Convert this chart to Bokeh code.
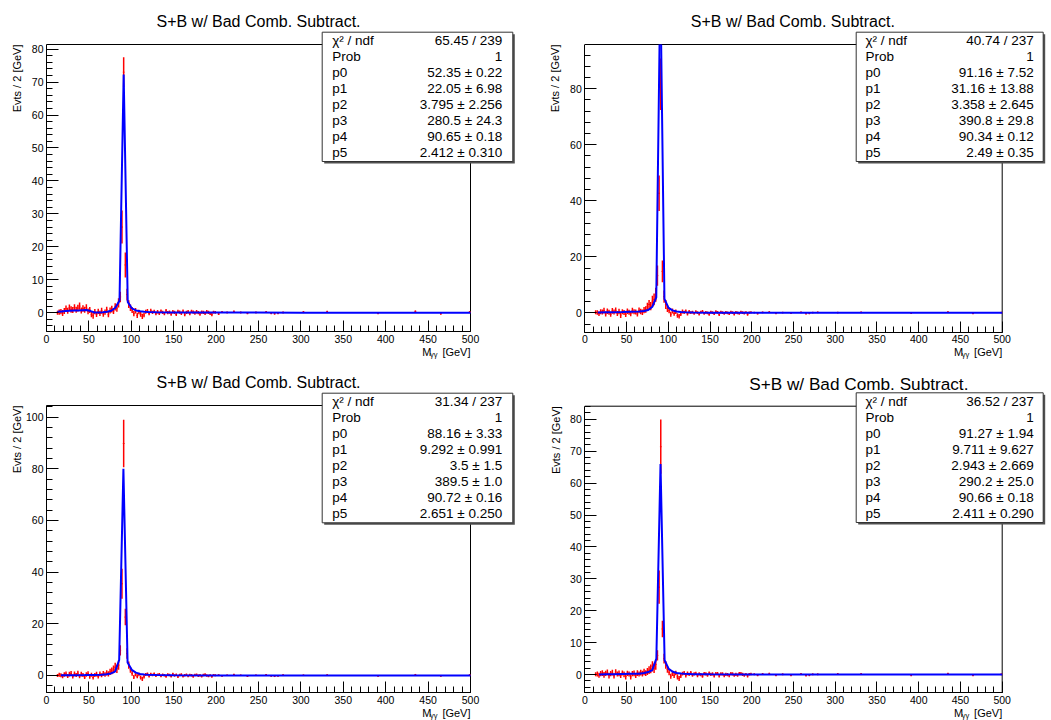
import math
from bokeh.plotting import figure
from bokeh.models import Range1d, SingleIntervalTicker, Label, BoxAnnotation, ColumnDataSource
from bokeh.layouts import column, row
from bokeh.embed import file_html
from bokeh.resources import INLINE

# ---------------- data ----------------
FIRST_CENTRE = 13      # centre of first filled 2-GeV bin
BIN_WIDTH = 2

tl_vals = [0.0, 0.2, 0.3, -0.1, 0.5, 1.2, 0.6, 1.5, 1.0, 0.8,
           1.6, 0.9, 1.4, 2.0, 0.7, 1.3, 0.9, 1.6, 0.4, 0.8,
           -0.6, -0.9, 0.3, -0.5, 0.4, -0.2, 0.6, -0.4, 0.2, 0.9,
           -0.6, 0.7, 1.1, 0.5, 1.8, 1.4, 3.0, 4.8, 26.0, 73.0,
           14.5, 5.5, 2.6, 1.5, 0.8, -0.3, 0.6, -0.8, 0.2, -0.5,
           -1.1, -0.7, 0.3, 0.5, -0.2, 0.6, 0.1, 0.4, -0.3, 0.3,
           -0.2, 0.5, 0.1, -0.3, 0.6, 0.0, 0.2, -0.4, 0.3, 0.1,
           -0.5, 0.4, 0.2, -0.2, 0.5, -0.6, 0.1, 0.3, -0.3, 0.4,
           0.2, -0.1, 0.3, 0.0, -0.4, 0.2, 0.1, -0.2, 0.3, 0.1,
           -0.3, -0.6, 0.2, 0.1]
tl_errs = [0.6, 0.8, 0.8, 0.9, 0.9, 1.0, 0.9, 1.0, 1.0, 0.9,
           1.0, 0.9, 1.0, 1.1, 0.9, 1.0, 0.9, 1.0, 0.9, 0.9,
           0.8, 0.9, 0.8, 0.8, 0.8, 0.8, 0.9, 0.8, 0.8, 0.9,
           0.8, 0.9, 1.0, 0.9, 1.1, 1.1, 1.4, 1.6, 5.0, 4.5,
           3.8, 1.8, 1.2, 1.0, 0.9, 0.8, 0.8, 0.8, 0.7, 0.7,
           0.8, 0.7, 0.6, 0.6, 0.6, 0.6, 0.5, 0.5, 0.5, 0.5,
           0.5, 0.5, 0.5, 0.5, 0.5, 0.5, 0.5, 0.5, 0.5, 0.5,
           0.5, 0.5, 0.5, 0.5, 0.5, 0.5, 0.5, 0.5, 0.5, 0.5,
           0.5, 0.5, 0.5, 0.5, 0.5, 0.5, 0.5, 0.5, 0.5, 0.5,
           0.4, 0.5, 0.4, 0.4]

tr_vals = [0.2, 0.1, -0.3, 0.4, 0.3, 0.8, -0.4, 0.6, 0.2, -0.5,
           0.7, 0.3, 0.9, -0.2, 0.5, -0.8, 0.4, 0.1, -0.6, 0.6,
           0.2, -0.3, 0.8, 0.4, 0.3, -0.4, 0.9, 0.5, 0.2, 1.0,
           1.2, 2.2, 3.0, 2.4, 4.2, 4.8, 6.5, 13.3, 42.7, 81.6,
           14.8, 5.8, 3.0, 1.5, 0.9, -0.5, 0.7, -0.2, 0.4, -0.9,
           -1.2, -0.4, 0.5, 0.2, 0.6, -0.3, 0.4, 0.1, 0.3, -0.2,
           0.4, 0.1, -0.4, 0.3, 0.5, -0.2, 0.2, 0.0, -0.5, 0.3,
           0.1, -0.3, 0.4, 0.2, -0.6, 0.3, 0.1, -0.2, 0.2, 0.0,
           -0.3, 0.3, 0.1, -0.4, 0.2, 0.0, -0.2, 0.3, 0.1, -0.1,
           0.2, -0.5, 0.1, 0.2]
tr_errs = [0.7, 0.8, 0.8, 0.9, 0.9, 1.0, 0.9, 1.0, 0.9, 0.9,
           1.0, 0.9, 1.0, 0.9, 1.0, 1.0, 0.9, 0.9, 0.9, 1.0,
           0.9, 0.9, 1.0, 0.9, 0.9, 0.9, 1.0, 1.0, 1.0, 1.1,
           1.2, 1.4, 1.6, 1.5, 1.9, 2.1, 2.5, 3.6, 6.3, 9.2,
           3.9, 2.2, 1.6, 1.2, 1.0, 0.9, 0.9, 0.8, 0.8, 0.8,
           0.8, 0.7, 0.7, 0.6, 0.6, 0.6, 0.6, 0.5, 0.5, 0.5,
           0.5, 0.5, 0.5, 0.5, 0.5, 0.5, 0.5, 0.5, 0.5, 0.5,
           0.5, 0.5, 0.5, 0.5, 0.5, 0.5, 0.5, 0.5, 0.5, 0.5,
           0.5, 0.5, 0.5, 0.5, 0.5, 0.5, 0.5, 0.5, 0.5, 0.5,
           0.4, 0.5, 0.4, 0.4]

bl_vals = [0.0, 0.3, 0.1, -0.3, 0.4, 0.6, -0.2, 0.5, 0.8, -0.4,
           0.6, 0.2, 0.9, -0.3, 0.5, 0.2, -0.6, 0.4, 0.7, -0.5,
           0.3, -0.8, 0.2, 0.5, -0.4, 0.6, 0.1, 0.8, 0.4, 1.0,
           0.6, 1.4, 1.8, 2.4, 3.2, 2.6, 4.0, 9.7, 35.5, 89.8,
           22.6, 8.5, 4.0, 2.2, 0.8, -0.6, 0.5, -0.3, 0.4, -0.8,
           -1.3, -0.5, 0.4, 0.6, -0.2, 0.5, 0.2, 0.7, -0.1, 0.3,
           0.5, -0.2, 0.3, 0.1, -0.4, 0.4, 0.2, -0.3, 0.6, 0.0,
           0.3, -0.5, 0.2, 0.4, -0.3, 0.1, 0.3, -0.2, 0.2, 0.1,
           -0.4, 0.2, 0.3, -0.1, 0.1, -0.3, 0.2, 0.4, 0.0, -0.2,
           0.1, -0.4, 0.2, 0.1]
bl_errs = [0.6, 0.8, 0.8, 0.8, 0.9, 0.9, 0.8, 0.9, 0.9, 0.8,
           0.9, 0.8, 0.9, 0.8, 0.9, 0.8, 0.8, 0.9, 0.9, 0.8,
           0.8, 0.8, 0.8, 0.9, 0.8, 0.9, 0.8, 0.9, 0.9, 1.0,
           1.0, 1.2, 1.3, 1.5, 1.7, 1.6, 1.8, 2.0, 5.8, 9.2,
           3.2, 2.0, 1.4, 1.1, 0.9, 0.8, 0.8, 0.8, 0.7, 0.8,
           0.8, 0.7, 0.6, 0.6, 0.6, 0.6, 0.5, 0.5, 0.5, 0.5,
           0.5, 0.5, 0.5, 0.5, 0.5, 0.5, 0.5, 0.5, 0.5, 0.5,
           0.5, 0.5, 0.5, 0.5, 0.5, 0.5, 0.5, 0.5, 0.5, 0.5,
           0.5, 0.5, 0.5, 0.5, 0.5, 0.5, 0.5, 0.5, 0.5, 0.5,
           0.4, 0.5, 0.4, 0.4]

br_vals = [0.1, 0.2, -0.2, 0.3, 0.5, -0.1, 0.4, 0.7, -0.3, 0.3,
           0.6, -0.4, 0.8, 0.2, 0.4, -0.3, 0.5, 0.1, -0.6, 0.4,
           0.2, -0.7, 0.3, 0.4, -0.3, 0.5, 0.2, 0.6, 0.3, 0.8,
           0.5, 1.0, 1.4, 1.8, 2.6, 2.0, 3.2, 6.0, 27.4, 71.4,
           14.3, 5.0, 3.0, 1.6, 0.7, -0.5, 0.4, -0.3, 0.5, -0.7,
           -1.2, -0.4, 0.3, 0.5, -0.3, 0.4, 0.1, 0.6, -0.2, 0.2,
           0.4, -0.3, 0.2, 0.0, -0.5, 0.3, 0.2, -0.2, 0.5, 0.1,
           0.2, -0.4, 0.3, 0.3, -0.4, 0.2, 0.2, -0.3, 0.1, 0.0,
           -0.3, 0.3, 0.2, -0.2, 0.1, -0.2, 0.3, 0.3, 0.1, -0.2,
           0.1, -0.4, 0.1, 0.2]
br_errs = [0.6, 0.8, 0.8, 0.8, 0.9, 0.9, 0.8, 0.9, 0.9, 0.8,
           0.9, 0.8, 0.9, 0.8, 0.9, 0.8, 0.8, 0.9, 0.9, 0.8,
           0.8, 0.8, 0.8, 0.9, 0.8, 0.9, 0.8, 0.9, 0.9, 1.0,
           0.9, 1.1, 1.2, 1.4, 1.6, 1.5, 1.7, 1.6, 5.2, 8.5,
           2.6, 1.5, 1.2, 1.0, 0.9, 0.8, 0.8, 0.8, 0.7, 0.8,
           0.8, 0.7, 0.6, 0.6, 0.6, 0.6, 0.5, 0.5, 0.5, 0.5,
           0.5, 0.5, 0.5, 0.5, 0.5, 0.5, 0.5, 0.5, 0.5, 0.5,
           0.5, 0.5, 0.5, 0.5, 0.5, 0.5, 0.5, 0.5, 0.5, 0.5,
           0.5, 0.5, 0.5, 0.5, 0.5, 0.5, 0.5, 0.5, 0.5, 0.5,
           0.4, 0.5, 0.4, 0.4]

# sparse high-mass bins (bin centres) and their contents
tail_x = [203, 207, 213, 221, 229, 237, 247, 259, 265, 269, 273, 279, 303, 331, 391, 435, 465, 499]
tail_err = [0.3, 0.3, 0.3, 0.3, 0.3, 0.3, 0.3, 0.3, 0.3, 0.3, 0.3, 0.3, 0.3, 0.3, 0.3, 0.3, 0.3, 0.3]
tl_tail = [-0.4, 0.2, 0.1, 0.4, 0.1, -0.2, 0.1, 0.2, -0.2, -0.3, -0.2, 0.1, 0.2, 0.3, -0.2, 0.4, -0.3, 0.2]
tr_tail = [0.1, -0.3, 0.2, 0.3, -0.2, 0.1, -0.1, 0.2, -0.3, -0.2, 0.1, 0.2, 0.1, 0.2, -0.1, 0.3, -0.2, 0.1]
bl_tail = [0.2, -0.2, 0.1, 0.4, 0.1, -0.3, 0.1, 0.3, -0.2, -0.3, -0.2, 0.2, 0.1, 0.2, -0.2, 0.3, -0.2, 0.2]
br_tail = [0.1, -0.2, 0.2, 0.3, -0.2, 0.1, -0.2, 0.2, -0.3, -0.2, 0.1, 0.1, 0.2, 0.2, -0.2, 0.3, -0.2, 0.1]

# fitted curves
tl_fit_x = [13, 17.9, 22.7, 27.6, 32.5, 37.4, 42.2, 47.1, 52.0, 56.8, 61.7, 66.6, 71.5, 76.3, 81.2,
            86.1, 91.0, 95.8, 100.7, 105.6, 110.5, 115.3, 120.2, 130, 150, 200, 300, 400, 500]
tl_fit_y = [0.3, 0.4, 0.5, 0.6, 0.65, 0.7, 0.75, 0.8, 0.5, 0.05, 0.1, 0.15, 0.3, 0.6, 1.5,
            3.7, 72.3, 3.3, 1.3, 0.7, 0.45, 0.3, 0.22, 0.15, 0.08, 0.04, 0.02, 0.01, 0.0]
tr_fit_x = [15.5, 25, 35, 45, 55, 65, 71, 76, 81, 85.6, 90.5, 95.4, 100.3, 105.1, 110, 115, 120,
            130, 150, 200, 300, 400, 500]
tr_fit_y = [0.1, 0.2, 0.25, 0.3, 0.4, 0.5, 0.7, 1.0, 2.2, 5.5, 118.0, 5.0, 1.8, 0.9, 0.5, 0.35, 0.25,
            0.15, 0.08, 0.03, 0.01, 0.0, 0.0]
bl_fit_x = [17, 25, 35, 45, 55, 65, 71, 76, 80.8, 85.7, 90.7, 95.6, 100.5, 105.4, 110.3, 115.2, 120,
            130, 150, 200, 300, 400, 500]
bl_fit_y = [0.05, 0.1, 0.12, 0.15, 0.2, 0.3, 0.5, 0.8, 1.5, 6.0, 80.0, 5.0, 2.2, 1.1, 0.6, 0.4, 0.3,
            0.18, 0.1, 0.04, 0.01, 0.0, 0.0]
br_fit_x = [17, 25, 35, 45, 55, 65, 71, 76, 80.8, 85.7, 90.7, 95.6, 100.5, 105.4, 110.3, 115.2, 120,
            130, 150, 200, 300, 400, 500]
br_fit_y = [0.05, 0.1, 0.15, 0.2, 0.25, 0.3, 0.5, 0.8, 1.4, 5.0, 66.0, 4.5, 1.8, 0.9, 0.5, 0.35, 0.25,
            0.15, 0.08, 0.03, 0.01, 0.0, 0.0]

stat_names = ["\u03c7\u00b2 / ndf", "Prob", "p0", "p1", "p2", "p3", "p4", "p5"]
tl_stats = ["65.45 / 239", "1", "52.35 \u00b1 0.22", "22.05 \u00b1 6.98", "3.795 \u00b1 2.256",
            "280.5 \u00b1 24.3", "90.65 \u00b1 0.18", "2.412 \u00b1 0.310"]
tr_stats = ["40.74 / 237", "1", "91.16 \u00b1 7.52", "31.16 \u00b1 13.88", "3.358 \u00b1 2.645",
            "390.8 \u00b1 29.8", "90.34 \u00b1 0.12", "2.49 \u00b1 0.35"]
bl_stats = ["31.34 / 237", "1", "88.16 \u00b1 3.33", "9.292 \u00b1 0.991", "3.5 \u00b1 1.5",
            "389.5 \u00b1 1.0", "90.72 \u00b1 0.16", "2.651 \u00b1 0.250"]
br_stats = ["36.52 / 237", "1", "91.27 \u00b1 1.94", "9.711 \u00b1 9.627", "2.943 \u00b1 2.669",
            "290.2 \u00b1 25.0", "90.66 \u00b1 0.18", "2.411 \u00b1 0.290"]

TITLE = "S+B w/ Bad Comb. Subtract."
Y_TITLE = "Evts / 2 [GeV]"
X_MIN, X_MAX = 0, 500
X_TICK = 50

FONT = "Liberation Sans"


def lab(p, x, y, text, size, align="left", baseline="middle", angle=0.0):
    p.add_layout(Label(x=x, y=y, x_units="screen", y_units="screen", text=text,
                       text_font=FONT, text_font_size=f"{size}px", text_color="black",
                       text_align=align, text_baseline=baseline, angle=angle))


def clip_curve(xs, ys, top):
    lines, cur = [], []
    for i, (x, y) in enumerate(zip(xs, ys)):
        if i > 0:
            xp, yp = xs[i - 1], ys[i - 1]
            if (yp <= top) != (y <= top):
                xc = xp + (top - yp) * (x - xp) / (y - yp)
                cur.append((xc, top))
                if y > top:
                    lines.append(cur)
                    cur = []
        if y <= top:
            cur.append((x, y))
    if cur:
        lines.append(cur)
    return [[pt[0] for pt in ln] for ln in lines], [[pt[1] for pt in ln] for ln in lines]


def make_panel(vals, errs, tail_v, fit_x, fit_y, stats, yr, ytick, g):
    ox, oy, W, H = g["fig"]            # figure placement (page px)
    L, R, T, B = g["frame"]            # ROOT frame (page px)
    ymin, ymax = yr
    kx = (R - L) / (X_MAX - X_MIN)
    ky = (B - T) / (ymax - ymin)
    xr = Range1d(X_MIN - (L - ox) / kx, X_MAX + (ox + W - R) / kx)
    yrng = Range1d(ymin - (oy + H - B) / ky, ymax + (T - oy) / ky)

    p = figure(width=W, height=H, min_border=0, x_range=xr, y_range=yrng,
               output_backend="svg", toolbar_location=None)
    p.background_fill_color = "white"
    p.border_fill_color = "white"
    p.outline_line_color = None
    p.xgrid.visible = False
    p.ygrid.visible = False

    sx = lambda v: v - ox
    sy = lambda v: oy + H - v

    # frame lines (top / right) drawn under the stats box
    p.segment(x0=[X_MIN, X_MAX], y0=[ymax, ymin], x1=[X_MAX, X_MAX], y1=[ymax, ymax],
              line_color="black", line_width=1)

    xa, ya = p.xaxis[0], p.yaxis[0]
    xa.fixed_location = ymin
    ya.fixed_location = X_MIN
    xa.bounds = (X_MIN, X_MAX)
    ya.bounds = (ymin, ymax)
    xa.ticker = SingleIntervalTicker(interval=X_TICK, num_minor_ticks=5)
    ya.ticker = SingleIntervalTicker(interval=ytick, num_minor_ticks=5)
    for ax in (xa, ya):
        ax.axis_line_color = "black"
        ax.major_tick_line_color = "black"
        ax.minor_tick_line_color = "black"
        ax.major_tick_out = 0
        ax.minor_tick_out = 0
        ax.major_label_text_font = FONT
        ax.major_label_text_font_size = "10.5px"
        ax.major_label_text_color = "black"
        ax.major_label_standoff = 3
    xa.major_tick_in = 11
    xa.minor_tick_in = 6
    ya.major_tick_in = 12
    ya.minor_tick_in = 6

    # histogram with error bars
    xs = [FIRST_CENTRE + BIN_WIDTH * i for i in range(len(vals))] + list(tail_x)
    ys = list(vals) + list(tail_v)
    es = list(errs) + list(tail_err)
    src = ColumnDataSource(dict(
        x=xs, lo=[v - e for v, e in zip(ys, es)], hi=[min(v + e, ymax) for v, e in zip(ys, es)],
        y=ys, xl=[x - BIN_WIDTH / 2 for x in xs], xr=[x + BIN_WIDTH / 2 for x in xs]))
    p.segment(x0="x", y0="lo", x1="x", y1="hi", source=src, line_color="#ff0000", line_width=1.5)
    p.segment(x0="xl", y0="y", x1="xr", y1="y", source=src, line_color="#ff0000", line_width=1)

    # fit curve (clipped at the frame top like ROOT)
    cx, cy = clip_curve(fit_x, fit_y, ymax)
    p.multi_line(xs=cx, ys=cy, line_color="#0000ff", line_width=2)

    # titles
    tx, ty, ts = g["title"]
    lab(p, sx(tx), sy(ty), TITLE, ts, align="center")
    yx = g["ytitle_x"]
    lab(p, sx(yx), sy(T), Y_TITLE, 11, align="right", angle=math.pi / 2)
    xy = sy(g["xtitle_y"])
    lab(p, sx(R), xy, "[GeV]", 11, align="right")
    lab(p, sx(R) - 33, xy - 3, "\u03b3\u03b3", 7.5, align="right")
    lab(p, sx(R) - 39, xy, "M", 11, align="right")

    # stats box (with ROOT-like shadow)
    bl_, br_, bt_, bb_ = g["box"]
    for dx, fill, line in ((2, "#505050", None), (0, "white", "#333333")):
        p.add_layout(BoxAnnotation(left=sx(bl_) + dx, right=sx(br_) + dx,
                                   top=sy(bt_) - dx, bottom=sy(bb_) - dx,
                                   left_units="screen", right_units="screen",
                                   top_units="screen", bottom_units="screen",
                                   fill_color=fill, fill_alpha=1.0,
                                   line_color=line, line_width=1, line_alpha=1.0))
    lx, rx, r0 = g["rows"]
    for i, (n, v) in enumerate(zip(stat_names, stats)):
        lab(p, sx(lx), sy(r0 + 16 * i), n, 13.5, align="left")
        lab(p, sx(rx), sy(r0 + 16 * i), v, 13.5, align="right")
    return p


geo_tl = dict(fig=(0, 0, 520, 360), frame=(46, 470, 44, 331), title=(258, 21, 16),
              ytitle_x=16.7, xtitle_y=351, box=(321.7, 512.3, 31.7, 161), rows=(331.7, 501.7, 40))
geo_tr = dict(fig=(520, 0, 531, 360), frame=(584.3, 1001.7, 44, 331.7), title=(792.3, 21, 16),
              ytitle_x=554.7, xtitle_y=351, box=(855.7, 1042.7, 31.7, 161), rows=(865, 1033.3, 40))
geo_bl = dict(fig=(0, 360, 520, 360), frame=(46, 470, 405, 692.3), title=(258, 381.7, 16),
              ytitle_x=16, xtitle_y=712, box=(321.7, 512.3, 392.7, 522.3), rows=(331.7, 501.7, 401))
geo_br = dict(fig=(520, 360, 531, 360), frame=(584.3, 1001.7, 405.7, 692.3), title=(858.3, 383.3, 17.2),
              ytitle_x=555, xtitle_y=712, box=(855.7, 1042.7, 392.3, 522), rows=(865, 1033.3, 401))

p_tl = make_panel(tl_vals, tl_errs, tl_tail, tl_fit_x, tl_fit_y, tl_stats, (-5.7, 81.4), 10, geo_tl)
p_tr = make_panel(tr_vals, tr_errs, tr_tail, tr_fit_x, tr_fit_y, tr_stats, (-6.9, 95.8), 20, geo_tr)
p_bl = make_panel(bl_vals, bl_errs, bl_tail, bl_fit_x, bl_fit_y, bl_stats, (-6.7, 104.5), 20, geo_bl)
p_br = make_panel(br_vals, br_errs, br_tail, br_fit_x, br_fit_y, br_stats, (-5.7, 84.1), 10, geo_br)

layout = column(row(p_tl, p_tr), row(p_bl, p_br))
open("out.html", "w").write(file_html(layout, INLINE))
